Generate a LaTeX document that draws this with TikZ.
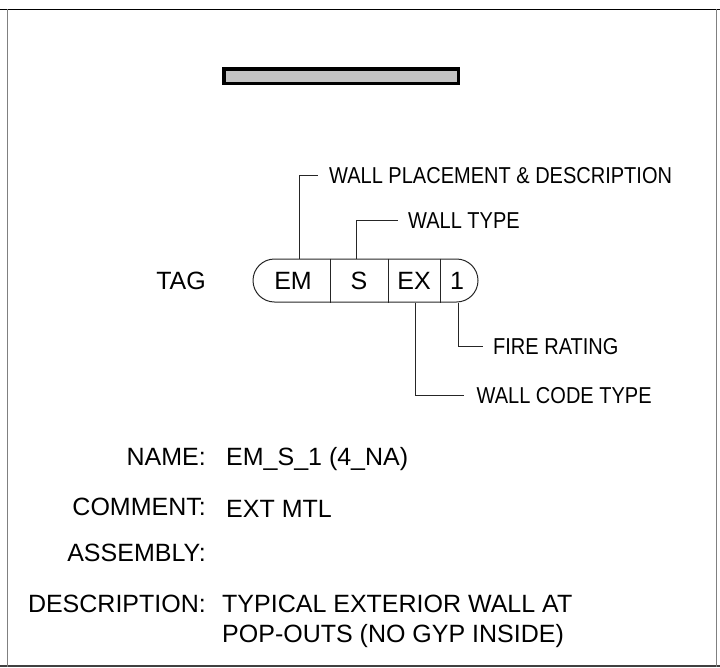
\documentclass[tikz,border=0pt]{standalone}
\usepackage{fontspec}
\setmainfont{Liberation Sans}
\newfontfamily\narrowsf[FakeStretch=0.87]{Liberation Sans}
\usetikzlibrary{positioning,calc}
\tikzset{
  lbl/.style={font=\fontsize{25}{30}\selectfont,inner sep=0pt},
  cell/.style={lbl,anchor=base},
  key/.style={lbl,anchor=base east},
  val/.style={lbl,anchor=base west,align=left},
  note/.style={font=\narrowsf\fontsize{23}{28}\selectfont,inner sep=0pt,anchor=base west},
  lead/.style={draw=black!85,line width=1pt},
  pill/.style={draw=black!85,line width=1pt,rounded corners=21.5pt,minimum width=225pt,minimum height=43pt,inner sep=0pt},
  frm/.style={line width=1.5pt}
}
\begin{document}
\begin{tikzpicture}[x=1pt,y=-1pt]
  \useasboundingbox (0,0) rectangle (720,667);
  % sheet frame
  \draw[frm,black] (0,9.3) -- (720,9.3);
  \draw[frm,black!75] (0,666) -- (720,666);
  \draw[frm,black!50] (7.3,9.3) -- (7.3,667);
  \draw[frm,black!50] (716.5,9.3) -- (716.5,667);

  % wall sample
  \node[draw,line width=3.3pt,fill=black!23,minimum width=234.5pt,minimum height=14.7pt,inner sep=0pt] (wall) at (341.2,76.3) {};

  % tag
  \node[key] (tag) at (206,289.5) {TAG};
  \node[pill] (pill) at (365.5,280.5) {};
  \node[cell] (em) at (293,289.5) {EM};
  \node[cell] (s) at (359,289.5) {S};
  \node[cell] (ex) at (414,289.5) {EX};
  \node[cell] (one) at (457,289.5) {1};
  \foreach \x in {330,388.3,440.3}
    \draw[lead] (\x,0 |- pill.north) -- (\x,0 |- pill.south);

  % callouts
  \coordinate (emT) at (299.3,0 |- pill.north);
  \coordinate (sT) at (356.7,0 |- pill.north);
  \coordinate (exB) at (415.7,0 |- pill.south);
  \coordinate (oneB) at (458.3,0 |- pill.south);
  \node[note] (place) at (329,183.3) {WALL PLACEMENT \& DESCRIPTION};
  \node[note] (type) at (408,228.3) {WALL TYPE};
  \node[note] (fire) at (493,354) {FIRE RATING};
  \node[note] (code) at (476.5,403.3) {WALL CODE TYPE};
  \draw[lead] (emT) |- ([xshift=-11pt]place.west);
  \draw[lead] (sT) |- ([xshift=-10pt]type.west);
  \draw[lead] (oneB) |- ([xshift=-10pt]fire.west);
  \draw[lead] (exB) |- ([xshift=-13pt]code.west);

  % schedule data
  \node[key] (kname) at (206,465) {NAME:};
  \node[key] (kcomm) at (206,515.5) {COMMENT:};
  \node[key] (kasm) at (206,561) {ASSEMBLY:};
  \node[key] (kdesc) at (206,612) {DESCRIPTION:};
  \node[val] (vname) at (226,465) {EM\_S\_1 (4\_NA)};
  \node[val] (vcomm) at (226,517) {EXT MTL};
  \node[val] (vdesc) at (222,642) {TYPICAL EXTERIOR WALL AT\\POP-OUTS (NO GYP INSIDE)};
\end{tikzpicture}
\end{document}
